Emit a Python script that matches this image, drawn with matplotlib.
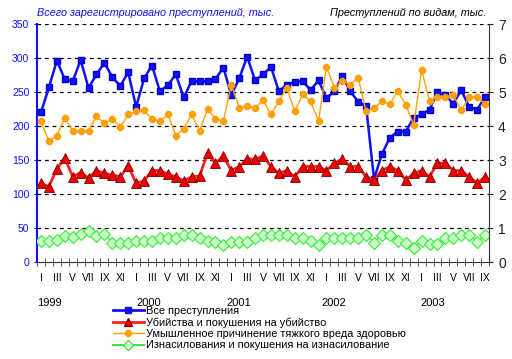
import matplotlib
matplotlib.use('Agg')
import matplotlib.pyplot as plt
from matplotlib.lines import Line2D
from matplotlib.transforms import blended_transform_factory

plt.rcParams['font.family'] = ['Liberation Sans', 'DejaVu Sans']

# данные: январь 1999 - сентябрь 2003
total = [220, 257, 296, 269, 266, 297, 256, 276, 293, 272, 259, 279,
         228, 270, 289, 251, 260, 276, 242, 266, 266, 266, 269, 286,
         246, 270, 302, 267, 276, 287, 251, 261, 265, 266, 253, 267,
         241, 251, 274, 251, 236, 229, 122, 159, 183, 192, 192, 212,
         217, 224, 250, 245, 233, 253, 228, 224, 243]
murder = [2.32, 2.22, 2.74, 3.06, 2.51, 2.63, 2.48, 2.69, 2.61, 2.56, 2.51, 2.83,
          2.32, 2.39, 2.69, 2.69, 2.59, 2.51, 2.39, 2.51, 2.53, 3.20, 2.91, 3.12,
          2.69, 2.81, 3.03, 3.03, 3.12, 2.81, 2.61, 2.69, 2.51, 2.81, 2.81, 2.81,
          2.69, 2.91, 3.03, 2.81, 2.81, 2.51, 2.41, 2.69, 2.81, 2.69, 2.41, 2.61,
          2.69, 2.51, 2.91, 2.91, 2.69, 2.69, 2.51, 2.32, 2.51]
harm = [4.14, 3.55, 3.72, 4.24, 3.86, 3.86, 3.86, 4.29, 4.08, 4.21, 3.97, 4.34,
        4.43, 4.46, 4.22, 4.14, 4.34, 3.72, 3.92, 4.34, 3.86, 4.49, 4.22, 4.14,
        5.22, 4.53, 4.60, 4.53, 4.76, 4.34, 4.73, 5.13, 4.43, 4.93, 4.73, 4.14,
        5.74, 5.13, 5.32, 5.22, 5.42, 4.43, 4.53, 4.73, 4.65, 5.03, 4.63, 4.03,
        5.65, 4.73, 4.86, 4.86, 4.91, 4.46, 4.86, 4.86, 4.65]
rape = [0.61, 0.61, 0.64, 0.77, 0.74, 0.84, 0.91, 0.77, 0.84, 0.57, 0.57, 0.57,
        0.61, 0.61, 0.61, 0.72, 0.72, 0.72, 0.81, 0.81, 0.72, 0.62, 0.59, 0.49,
        0.59, 0.59, 0.59, 0.72, 0.81, 0.81, 0.81, 0.81, 0.72, 0.72, 0.62, 0.49,
        0.72, 0.72, 0.72, 0.72, 0.72, 0.81, 0.57, 0.81, 0.81, 0.62, 0.56, 0.42,
        0.62, 0.52, 0.52, 0.72, 0.72, 0.81, 0.81, 0.59, 0.81]
roman = ['I', '', 'III', '', 'V', '', 'VII', '', 'IX', '', 'XI', '']
years = ['1999', '2000', '2001', '2002', '2003']
year_pos = [1, 13.6, 24.9, 36.9, 49.4]
labels = ['Все преступления',
          'Убийства и покушения на убийство',
          'Умышленное причинение тяжкого вреда здоровью',
          'Изнасилования и покушения на изнасилование']

x = list(range(len(total)))

fig = plt.figure(figsize=(5.12, 3.59), dpi=100)
ax = fig.add_axes([0.0723, 0.270, 0.8828, 0.663])
ax2 = ax.twinx()

ax.set_xlim(-0.5, len(total) - 0.5)
ax.set_ylim(0, 350)
ax2.set_ylim(0, 7)

for v in range(50, 351, 50):
    ax.axhline(v, color='black', lw=0.9, ls=(0, (3, 3)), zorder=0)

ax.plot(x, total, color='#1010ff', lw=1.8, marker='s', ms=4.5,
        mfc='#1010ff', mec='#0000cc', zorder=3)
ax2.plot(x, rape, color='#33ee33', lw=1, marker='D', ms=6,
         mfc='#ccffcc', mec='#33ee33', mew=0.8)
ax2.plot(x, murder, color='#ff2020', lw=2, marker='^', ms=6.5,
         mfc='#ee0000', mec='#800000', mew=0.6)
ax2.plot(x, harm, color='#ffa500', lw=1, marker='8', ms=5,
         mfc='#ffa500', mec='#ff9900')

# оси
for a in (ax, ax2):
    a.spines['top'].set_visible(False)
ax.spines['left'].set_color('#1010ff')
ax.spines['left'].set_linewidth(1.5)
ax2.spines['left'].set_visible(False)
ax.spines['bottom'].set_color('#333333')
ax2.spines['bottom'].set_visible(False)
ax2.spines['right'].set_color('#333333')
ax.spines['right'].set_visible(False)

ax.set_yticks(range(0, 351, 50))
ax.tick_params(axis='y', colors='#1010ff', labelsize=7.5, length=2)
ax2.set_yticks(range(0, 8))
ax2.tick_params(axis='y', colors='#222222', labelsize=10, length=3)

ax.set_xticks(x)
ax.set_xticklabels([roman[i % 12] for i in x], fontsize=7.5)
ax.set_xticks([i - 0.5 for i in range(len(total) + 1)], minor=True)
ax.tick_params(axis='x', which='major', length=0, pad=8)
ax.tick_params(axis='x', which='minor', length=6, direction='inout',
               color='#333333')

tr = blended_transform_factory(ax.transData, ax.transAxes)
for yr, p in zip(years, year_pos):
    ax.text(p, -0.17, yr, transform=tr, ha='center', va='center', fontsize=8)

fig.text(0.0723, 0.965, 'Всего зарегистрировано преступлений, тыс.',
         color='#1010ff', style='italic', fontsize=7.8, va='center')
fig.text(0.950, 0.965, 'Преступлений по видам, тыс.',
         color='black', style='italic', fontsize=7.8, va='center', ha='right')

handles = [
    Line2D([], [], color='#1010ff', lw=2, marker='s', ms=5, mfc='#1010ff'),
    Line2D([], [], color='#ff2020', lw=2, marker='^', ms=6, mfc='#ee0000',
           mec='#800000'),
    Line2D([], [], color='#ffa500', lw=1, marker='8', ms=5, mfc='#ffa500',
           mec='#ff9900'),
    Line2D([], [], color='#33ee33', lw=1.5, marker='D', ms=5, mfc='white',
           mec='#33ee33'),
]
fig.legend(handles, labels, loc='upper left',
           bbox_to_anchor=(113 / 512, 1 - 306 / 359), frameon=False,
           fontsize=7.9, handlelength=2.8, handletextpad=0.2,
           labelspacing=0.12, borderpad=0, borderaxespad=0)

fig.savefig('out.png', dpi=100)
